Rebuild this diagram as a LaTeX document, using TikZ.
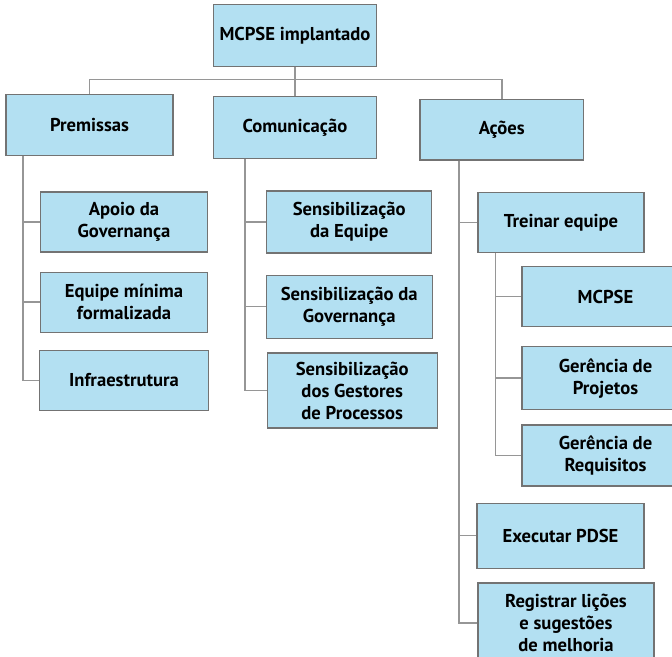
\documentclass[tikz,border=0pt]{standalone}
\usepackage{fontspec}
\setmainfont{PT Sans}
\usetikzlibrary{positioning}
\definecolor{boxblue}{RGB}{179,224,242}
\definecolor{boxline}{RGB}{115,115,115}
\definecolor{linkgray}{RGB}{150,150,150}
\begin{document}
\begin{tikzpicture}[
  font=\fontsize{10.6}{12.5}\selectfont\bfseries, node distance = 4mm and 8mm,
  pr/.style={rectangle, draw=boxline, fill=boxblue, line width=0.25mm, align=center, minimum width=33.4mm, minimum height=12mm, inner sep=1pt},
  l/.style={draw=linkgray, line width=0.3mm}]
\path[use as bounding box] (0,0) rectangle (134.4mm,-131.4mm);
\clip (0,0) rectangle (134.4mm,-131.4mm);
% top level
\node[pr, minimum width=32.6mm, minimum height=12.4mm] (top) at (59mm,-7.1mm) {MCPSE implantado};
\node[pr, minimum width=32.7mm, minimum height=12.4mm, below=5.8mm of top] (com) {Comunicação};
\node[pr, minimum height=12.2mm, left=7.8mm of com, yshift=0.5mm] (pm) {Premissas};
\node[pr, minimum width=32.7mm, minimum height=12.1mm, right=8.4mm of com, yshift=-0.4mm] (ac) {Ações};
% premissas
\node[pr, below=7mm of pm.south west, anchor=north west, xshift=6.9mm] (ap) {Apoio da\\Governança};
\node[pr, below=3.8mm of ap] (eq) {Equipe mínima\\formalizada};
\node[pr, below=3.4mm of eq, minimum width=33.8mm] (inf) {Infraestrutura};
% comunicacao
\node[pr, below=6.2mm of com.south west, anchor=north west, xshift=10.7mm, minimum width=33mm, minimum height=12.4mm] (se) {Sensibilização\\da Equipe};
\node[pr, below=4.2mm of se, minimum width=33.2mm, minimum height=12.6mm] (sg) {Sensibilização da\\Governança};
\node[pr, below=2.7mm of sg, xshift=0.6mm, minimum width=34mm, minimum height=15mm] (sp) {Sensibilização\\dos Gestores\\de Processos};
% acoes
\node[pr, below=6.3mm of ac.south west, anchor=north west, xshift=11.6mm, minimum width=33.2mm] (tr) {Treinar equipe};
\node[pr, below=2.5mm of tr.south west, anchor=north west, xshift=8.8mm] (mc) {MCPSE};
\node[pr, below=3.8mm of mc, minimum height=12.6mm] (gp) {Gerência de\\Projetos};
\node[pr, below=2.8mm of gp, minimum height=12.2mm] (gr) {Gerência de\\Requisitos};
\node[pr, below=3.2mm of gr.south west, anchor=north west, xshift=-9mm, minimum height=13mm] (ex) {Executar PDSE};
\node[pr, below=2.7mm of ex.south west, anchor=north west, xshift=0.2mm, minimum width=35.2mm, minimum height=16mm] (rg) {Registrar lições\\e sugestões\\de melhoria};
% links
\coordinate[below=2.5mm of top] (bus);
\draw[l](top)--(com);
\draw[l](pm.north)|-(bus)-|(ac.north);
\draw[l]([xshift=3.5mm]pm.south west)|-(ap.west);\draw[l]([xshift=3.5mm]pm.south west)|-(eq.west);\draw[l]([xshift=3.5mm]pm.south west)|-(inf.west);
\draw[l]([xshift=6.5mm]com.south west)|-(se.west);\draw[l]([xshift=6.5mm]com.south west)|-(sg.west);\draw[l]([xshift=6.5mm]com.south west)|-(sp.west);
\draw[l]([xshift=7.9mm]ac.south west)|-(tr.west);\draw[l]([xshift=7.9mm]ac.south west)|-(ex.west);\draw[l]([xshift=7.9mm]ac.south west)|-(rg.west);
\draw[l]([xshift=3.6mm]tr.south west)|-(mc.west);\draw[l]([xshift=3.6mm]tr.south west)|-(gp.west);\draw[l]([xshift=3.6mm]tr.south west)|-(gr.west);
\end{tikzpicture}
\end{document}
